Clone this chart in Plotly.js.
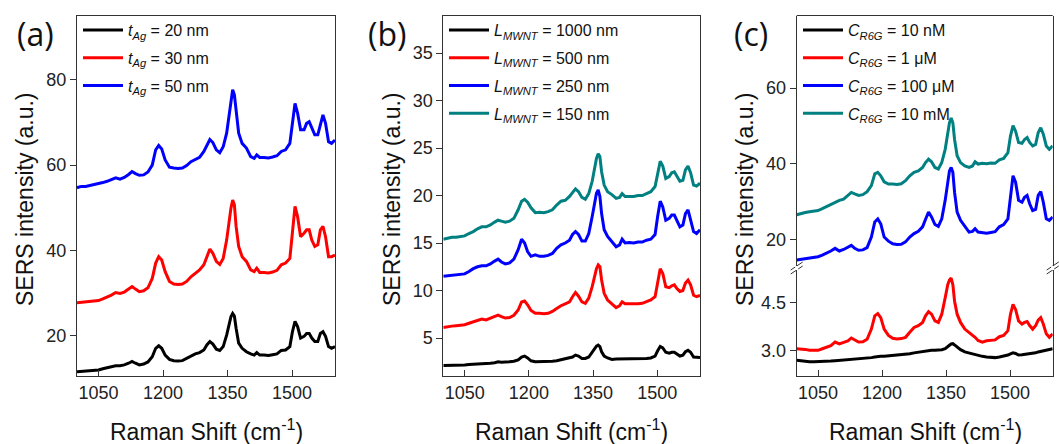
<!DOCTYPE html>
<html>
<head>
<meta charset="utf-8">
<script src="https://cdn.plot.ly/plotly-3.0.1.min.js"></script>
<style>html,body{margin:0;padding:0;background:#fff;}#chart{width:1059px;height:444px;}</style>
</head>
<body>
<div id="chart"></div>
<script>
// Raman shift grid (cm^-1)
const ramanShift = [1000,1010,1020,1030,1040,1050,1060,1070,1080,1090,1100,1110,1120,1128,1136,1145,1155,1165,1175,1183,1190,1197,1205,1215,1225,1235,1245,1255,1265,1275,1285,1295,1302,1309,1316,1324,1332,1340,1348,1354,1358,1362,1366,1370,1376,1384,1394,1404,1412,1418,1425,1435,1445,1455,1465,1475,1485,1495,1501,1507,1513,1520,1528,1534,1540,1546,1553,1560,1566,1572,1578,1585,1592,1600];

// Panel (a): Ag thickness
const tAg20 = [11.5,11.6,11.7,11.8,11.8,11.9,12.2,12.4,12.7,12.9,12.9,13.1,13.5,13.9,13.5,13.1,13.3,13.8,15.0,17.0,17.6,17.0,15.4,14.4,14.1,14.0,14.1,14.7,15.2,15.7,16.0,16.6,17.8,18.6,18.0,16.8,16.5,17.4,20.1,22.9,24.4,25.2,24.6,21.7,18.2,17.0,16.2,15.7,15.4,16.0,15.4,15.4,15.3,15.5,15.7,16.5,16.6,17.4,20.9,23.3,22.1,19.4,19.8,20.5,20.5,19.4,18.6,18.6,20.5,20.9,19.8,17.4,17.0,17.4];
const tAg30 = [27.7,27.8,27.9,28.0,28.1,28.2,28.6,29.0,29.5,30.1,29.9,30.2,30.9,31.5,30.9,30.3,30.5,31.2,33.4,37.0,38.5,37.7,35.0,32.7,32.1,32.0,32.1,32.7,33.8,34.6,35.4,36.6,38.5,40.3,39.3,37.4,36.7,38.1,42.4,47.1,49.9,51.8,50.7,45.6,40.9,38.5,37.4,35.4,35.0,35.8,34.8,34.8,34.7,34.9,35.3,36.6,37.0,38.1,44.0,50.3,47.9,43.2,44.0,44.8,44.8,42.4,40.9,41.3,44.8,45.6,43.2,38.5,38.5,38.9];
const tAg50 = [54.7,55.0,55.0,55.2,55.4,55.6,55.9,56.2,56.6,57.0,56.7,57.1,57.8,58.5,58.0,57.6,57.7,58.4,60.0,63.6,64.6,63.8,61.2,59.5,59.3,59.2,59.3,59.9,60.8,61.4,61.8,63.2,64.7,66.0,65.3,63.6,62.9,64.3,67.5,72.2,75.3,77.7,76.5,72.2,67.5,65.1,64.0,62.0,61.6,62.4,61.8,61.8,61.7,61.9,62.2,63.2,63.6,65.1,70.6,74.5,72.2,68.3,68.3,69.8,70.2,68.7,67.1,67.1,69.8,71.8,69.8,65.5,65.1,65.9];

// Panel (b): MWNT length
const L1000 = [2.1,2.1,2.12,2.13,2.15,2.15,2.2,2.22,2.25,2.3,2.3,2.35,2.4,2.5,2.45,2.45,2.5,2.55,2.7,3.0,3.1,2.9,2.6,2.5,2.5,2.5,2.5,2.55,2.6,2.7,2.75,2.85,3.0,3.2,3.1,2.85,2.85,3.0,3.55,4.0,4.15,4.25,4.1,3.55,3.1,2.9,2.75,2.8,2.8,2.8,2.8,2.8,2.8,2.8,2.8,2.85,2.9,3.1,3.65,4.1,3.95,3.5,3.4,3.5,3.5,3.35,3.1,3.2,3.55,3.7,3.5,3.0,2.95,2.95];
const L500 = [6.1,6.2,6.25,6.3,6.35,6.4,6.55,6.7,6.85,7.0,6.9,7.05,7.25,7.4,7.25,7.1,7.15,7.4,7.95,8.8,8.9,8.5,7.9,7.6,7.6,7.55,7.6,7.8,8.1,8.4,8.6,8.8,9.35,9.8,9.4,8.8,8.65,9.2,10.4,11.6,12.3,12.7,12.5,11.1,9.7,9.0,8.65,8.2,8.4,8.8,8.6,8.6,8.55,8.6,8.65,8.8,9.0,9.35,10.9,12.3,11.8,10.4,10.3,10.5,10.6,10.2,9.9,10.0,10.8,11.1,10.6,9.5,9.35,9.5];
const L250 = [11.5,11.55,11.6,11.7,11.7,11.75,12.0,12.3,12.5,12.6,12.6,12.8,13.1,13.3,13.0,12.8,12.9,13.3,14.3,15.4,15.0,14.1,13.6,13.75,13.6,13.6,13.7,13.9,14.45,14.8,15.0,15.3,15.9,16.2,15.9,15.2,15.2,16.0,17.8,19.5,20.25,20.6,19.9,18.1,16.4,15.7,15.2,14.6,14.8,15.4,15.0,15.05,15.0,15.1,15.1,15.3,15.4,15.9,17.8,19.4,18.8,17.4,17.6,17.95,17.95,17.3,16.7,16.9,18.1,18.5,17.4,16.2,16.0,16.4];
const L150 = [15.4,15.5,15.6,15.6,15.7,15.75,16.0,16.2,16.5,16.7,16.7,16.9,17.2,17.4,17.3,17.2,17.3,17.6,18.5,19.4,19.6,19.3,18.7,18.2,18.25,18.2,18.3,18.5,19.0,19.4,19.5,19.9,20.3,20.7,20.4,19.8,19.6,20.2,21.5,23.1,23.9,24.4,24.1,22.5,21.1,20.4,20.1,19.7,19.8,20.2,19.9,19.9,19.9,20.0,20.0,20.2,20.4,20.95,22.35,23.6,23.1,21.8,22.0,22.4,22.5,22.0,21.5,21.6,22.7,23.1,22.4,21.1,21.0,21.3];

// Panel (c): R6G concentration
const C10nM = [2.69,2.67,2.65,2.64,2.64,2.64,2.65,2.66,2.66,2.67,2.68,2.69,2.7,2.71,2.71,2.72,2.73,2.75,2.77,2.79,2.81,2.81,2.81,2.82,2.83,2.84,2.85,2.87,2.89,2.92,2.94,2.97,2.98,2.99,3.0,3.0,3.0,3.02,3.05,3.1,3.16,3.2,3.21,3.17,3.1,3.02,2.95,2.91,2.88,2.86,2.84,2.81,2.79,2.78,2.77,2.79,2.81,2.85,2.89,2.92,2.9,2.85,2.86,2.87,2.88,2.88,2.89,2.92,2.95,2.97,2.98,3.0,3.03,3.05];
const C1uM = [3.05,3.05,3.03,3.0,3.0,3.0,3.05,3.1,3.15,3.26,3.2,3.25,3.3,3.39,3.32,3.26,3.27,3.35,3.67,4.09,4.16,4.03,3.67,3.47,3.38,3.36,3.37,3.41,3.57,3.72,3.78,3.88,4.09,4.22,4.14,3.93,3.88,4.14,4.66,5.07,5.22,5.28,5.07,4.55,4.14,3.88,3.67,3.57,3.47,3.41,3.31,3.26,3.3,3.31,3.33,3.43,3.47,3.62,4.14,4.45,4.29,3.93,3.83,3.88,3.91,3.78,3.67,3.78,3.95,4.03,3.83,3.52,3.41,3.52];
const C100uM = [14.5,14.7,14.9,15.0,15.2,15.4,15.8,16.3,16.9,17.6,16.9,17.3,17.8,18.4,17.6,17.1,17.2,17.8,20.6,24.6,25.4,24.1,20.6,19.5,18.8,18.6,18.7,19.3,20.6,21.5,22.1,23.3,25.3,27.2,25.9,23.9,23.4,25.4,30.3,35.9,38.1,39.0,37.7,32.4,27.2,25.0,23.3,21.9,22.1,22.8,21.9,21.7,21.6,21.8,22.0,23.3,23.9,25.4,31.6,36.8,35.1,30.3,29.8,31.1,31.6,29.4,27.6,27.9,31.6,32.6,29.8,25.4,25.0,25.9];
const C10mM = [26.5,26.9,27.1,27.3,27.5,27.6,28.1,28.7,29.3,29.8,30.3,30.6,31.5,32.4,32.0,31.6,31.8,32.6,34.2,37.3,37.7,36.8,35.2,34.6,34.6,34.5,34.7,35.5,36.8,37.7,38.1,39.0,40.3,41.2,40.5,39.0,38.6,40.3,43.8,48.2,50.8,52.1,50.8,46.4,42.1,40.3,39.4,39.0,39.4,40.5,39.9,40.1,40.0,40.2,40.1,41.0,41.4,42.9,47.3,50.1,48.6,45.6,45.4,46.4,46.9,45.6,44.7,45.1,48.2,49.5,47.8,44.7,43.8,44.7];

// Legend labels
const labelsA = ['<i>t</i><sub><i>Ag</i></sub> = 20 nm', '<i>t</i><sub><i>Ag</i></sub> = 30 nm', '<i>t</i><sub><i>Ag</i></sub> = 50 nm'];
const labelsB = ['<i>L</i><sub><i>MWNT</i></sub> = 1000 nm', '<i>L</i><sub><i>MWNT</i></sub> = 500 nm', '<i>L</i><sub><i>MWNT</i></sub> = 250 nm', '<i>L</i><sub><i>MWNT</i></sub> = 150 nm'];
const labelsC = ['<i>C</i><sub><i>R6G</i></sub> = 10 nM', '<i>C</i><sub><i>R6G</i></sub> = 1 \u03BCM', '<i>C</i><sub><i>R6G</i></sub> = 100 \u03BCM', '<i>C</i><sub><i>R6G</i></sub> = 10 mM'];

// Tick values
const xTicks = [1050, 1200, 1350, 1500];
const yTicksA = [20, 40, 60, 80];
const yTicksB = [5, 10, 15, 20, 25, 30, 35];
const yTicksCUpper = [20, 40, 60];
const yTicksCLower = [3.0, 4.5];
const yTickTextCLower = ['3.0', '4.5'];

const colors = ['#000000', '#ff0000', '#0000ff', '#008080'];
const FONT = 'Liberation Sans, Arial, sans-serif';

let grp = 0;
function tr(y, name, color, xa, ya, leg) {
  grp += 1;
  return {x: ramanShift, y: y, name: name, type: 'scatter', mode: 'lines',
    line: {color: color, width: 3}, xaxis: xa, yaxis: ya, legend: leg, legendgroup: 'g' + grp};
}

const data = [
  tr(tAg20, labelsA[0], colors[0], 'x', 'y', 'legend'),
  tr(tAg30, labelsA[1], colors[1], 'x', 'y', 'legend'),
  tr(tAg50, labelsA[2], colors[2], 'x', 'y', 'legend'),
  tr(L1000, labelsB[0], colors[0], 'x2', 'y2', 'legend2'),
  tr(L500, labelsB[1], colors[1], 'x2', 'y2', 'legend2'),
  tr(L250, labelsB[2], colors[2], 'x2', 'y2', 'legend2'),
  tr(L150, labelsB[3], colors[3], 'x2', 'y2', 'legend2'),
  tr(C10nM, labelsC[0], colors[0], 'x3', 'y4', 'legend3'),
  tr(C1uM, labelsC[1], colors[1], 'x3', 'y4', 'legend3'),
  tr(C100uM, labelsC[2], colors[2], 'x3', 'y3', 'legend3'),
  tr(C10mM, labelsC[3], colors[3], 'x3', 'y3', 'legend3')
];

const W = 1059, H = 444;
const px = v => v / W;
const py = v => 1 - v / H;

const dA = [px(77), px(335)], dB = [px(443.3), px(700)], dC = [px(796.7), px(1052.7)];
const yDom = [py(376), py(16)];
const yUp = [py(266.5), py(15.5)], yLow = [py(376), py(269.5)];

const tickFont = {family: FONT, size: 18, color: '#222'};
function xax(dom, anchor, mirror) {
  return {domain: dom, anchor: anchor, range: [1000, 1600], tickvals: xTicks,
    ticks: 'inside', ticklen: 6, tickwidth: 1, tickcolor: '#333', showline: true, linecolor: '#333', linewidth: 1,
    mirror: mirror, showgrid: false, zeroline: false, tickfont: tickFont};
}
function yax(dom, anchor, range, tickvals) {
  return {domain: dom, anchor: anchor, range: range, tickvals: tickvals,
    ticks: 'outside', ticklen: 6, tickwidth: 1, tickcolor: '#333', showline: true, linecolor: '#333', linewidth: 1,
    mirror: true, showgrid: false, zeroline: false, tickfont: tickFont};
}

const legFont = {family: FONT, size: 16, color: '#111'};
function leg(xp) {
  return {x: xp, y: py(13), xanchor: 'left', yanchor: 'top', bgcolor: 'rgba(0,0,0,0)', borderwidth: 0,
    font: legFont, tracegroupgap: 4, itemwidth: 40, traceorder: 'grouped'};
}

const annFont = {family: FONT, size: 23, color: '#111'};
const panelFont = {family: 'Open Sans, Noto Sans, sans-serif', size: 32, color: '#111'};
function ytitle(xc) {
  return {text: 'SERS intensity (a.u.)', x: px(xc), y: py(200), xref: 'paper', yref: 'paper', textangle: -90,
    showarrow: false, font: annFont, xanchor: 'center', yanchor: 'middle'};
}
function xtitle(xc) {
  return {text: 'Raman Shift (cm<sup>-1</sup>)', x: px(xc), y: py(430), xref: 'paper', yref: 'paper',
    showarrow: false, font: annFont, xanchor: 'center', yanchor: 'middle'};
}
function plabel(t, xc) {
  return {text: t, x: px(xc), y: py(33), xref: 'paper', yref: 'paper', showarrow: false, font: panelFont,
    xanchor: 'center', yanchor: 'middle'};
}

function brk(xc) {
  const lines = [];
  [-2, 2].forEach(off => {
    lines.push({type: 'line', xref: 'paper', yref: 'paper',
      x0: px(xc - 6), y0: py(272 + off), x1: px(xc + 6), y1: py(264 + off),
      line: {color: '#333', width: 1}});
  });
  lines.push({type: 'rect', xref: 'paper', yref: 'paper', x0: px(xc - 1.5), x1: px(xc + 1.5), y0: py(270), y1: py(266),
    line: {width: 0}, fillcolor: '#fff'});
  return lines;
}

const layout = {
  width: W, height: H, margin: {l: 0, r: 0, t: 0, b: 0}, paper_bgcolor: '#fff', plot_bgcolor: 'rgba(0,0,0,0)',
  font: {family: FONT, color: '#111'},
  xaxis: xax(dA, 'y', true),
  yaxis: yax(yDom, 'x', [10.5, 95], yTicksA),
  xaxis2: xax(dB, 'y2', true),
  yaxis2: yax(yDom, 'x2', [1.0, 38.9], yTicksB),
  xaxis3: xax(dC, 'y4', false),
  yaxis3: yax(yUp, 'x3', [12.8, 79.2], yTicksCUpper),
  yaxis4: Object.assign(yax(yLow, 'x3', [2.19, 5.55], yTicksCLower), {ticktext: yTickTextCLower}),
  legend: leg(px(78)),
  legend2: leg(px(444)),
  legend3: leg(px(798)),
  annotations: [
    ytitle(25), ytitle(392), ytitle(745),
    xtitle(206), xtitle(571.5), xtitle(925),
    plabel('(a)', 35), plabel('(b)', 387), plabel('(c)', 751)
  ],
  shapes: [
    {type: 'line', xref: 'paper', yref: 'paper', x0: dC[0], x1: dC[1], y0: yUp[1], y1: yUp[1], line: {color: '#333', width: 1}}
  ].concat(brk(796.7), brk(1052.7)),
  showlegend: true
};

Plotly.newPlot('chart', data, layout, {displayModeBar: false, staticPlot: true});
</script>
</body>
</html>
